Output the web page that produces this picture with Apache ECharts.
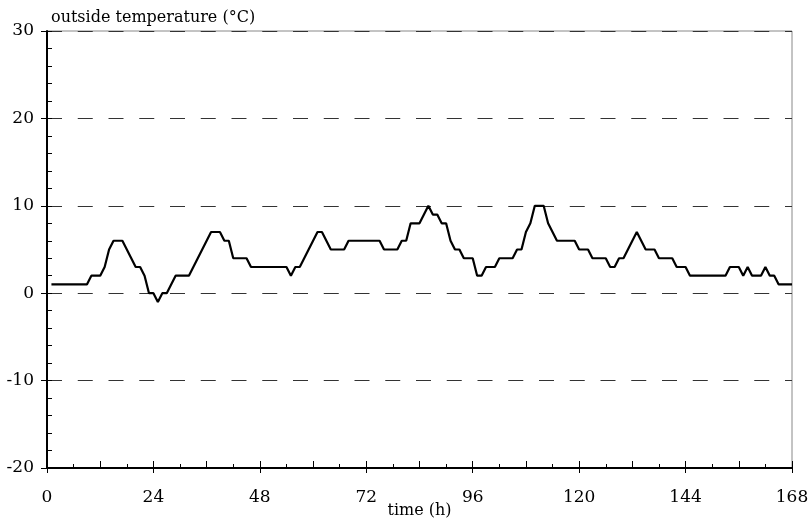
<!DOCTYPE html>
<html>
<head>
<meta charset="utf-8">
<script src="https://cdn.jsdelivr.net/npm/echarts@6/dist/echarts.min.js"></script>
<style>html,body{margin:0;padding:0;background:#fff;overflow:hidden}#c{width:811px;height:523px}</style>
</head>
<body>
<div id="c"></div>
<script>
const titleText = 'outside temperature (°C)';
const xName = 'time (h)';
const firstHour = 1;
// hourly outside temperature, hours 1..168
const temps = [
  1,1,1,1,1,1,1,1,1,
  2,2,2,3,5,6,6,6,5,4,
  3,3,2,0,0,-1,0,0,1,2,
  2,2,2,3,4,5,6,7,7,7,
  6,6,4,4,4,4,3,3,3,3,
  3,3,3,3,3,2,3,3,4,5,
  6,7,7,6,5,5,5,5,6,6,
  6,6,6,6,6,6,5,5,5,5,
  6,6,8,8,8,9,10,9,9,8,
  8,6,5,5,4,4,4,2,2,3,
  3,3,4,4,4,4,5,5,7,8,
  10,10,10,8,7,6,6,6,6,6,
  5,5,5,4,4,4,4,3,3,4,
  4,5,6,7,6,5,5,5,4,4,
  4,4,3,3,3,2,2,2,2,2,
  2,2,2,2,3,3,3,2,3,2,
  2,2,3,2,2,1,1,1,1
];
const xMin = 0, xMax = 168, xStep = 24;
const yMin = -20, yMax = 30, yStep = 10;

const data = temps.map((v, i) => [firstHour + i, v]);
const font = 'DejaVu Serif';
const chart = echarts.init(document.getElementById('c'), null, {renderer: 'canvas', width: 811, height: 523});
chart.setOption({
  backgroundColor: '#fff',
  animation: false,
  title: {
    text: titleText, left: 46, top: 5,
    textStyle: {fontFamily: font, fontSize: 16, fontWeight: 'normal', color: '#000'}
  },
  grid: {left: 47, width: 745, top: 31, height: 437, outerBoundsMode: 'none', containLabel: false,
         show: true, borderColor: '#888', borderWidth: 1, backgroundColor: 'transparent'},
  xAxis: [
    {
      type: 'value', min: xMin, max: xMax, interval: xStep, position: 'bottom',
      name: xName, nameLocation: 'middle', nameGap: 35, nameMoveOverlap: false,
      nameTextStyle: {fontFamily: font, fontSize: 16, color: '#000'},
      axisLine: {show: true, onZero: false, lineStyle: {color: '#000', width: 2}},
      axisTick: {show: true, inside: false, length: 5, lineStyle: {color: '#000', width: 1}},
      axisLabel: {fontFamily: font, fontSize: 17, color: '#000', margin: 21},
      splitLine: {show: false}
    },
    {
      type: 'value', min: xMin, max: xMax, interval: 12, position: 'bottom', offset: 0,
      axisLine: {show: false, onZero: false},
      axisTick: {show: true, inside: true, length: 7, lineStyle: {color: '#000', width: 1}},
      axisLabel: {show: false}, splitLine: {show: false}
    },
    {
      type: 'value', min: xMin, max: xMax, interval: 6, position: 'bottom', offset: 0,
      axisLine: {show: false, onZero: false},
      axisTick: {show: true, inside: true, length: 4, lineStyle: {color: '#000', width: 1}},
      axisLabel: {show: false}, splitLine: {show: false}
    }
  ],
  yAxis: [
    {
      type: 'value', min: yMin, max: yMax, interval: yStep, position: 'left',
      axisLine: {show: true, onZero: false, lineStyle: {color: '#000', width: 2}},
      axisTick: {show: true, inside: false, length: 6, lineStyle: {color: '#000', width: 1}},
      axisLabel: {fontFamily: font, fontSize: 17, color: '#000', margin: 13},
      splitLine: {show: true, lineStyle: {color: '#333', width: 1, type: [15, 15.75]}}
    },
    {
      type: 'value', min: yMin, max: yMax, interval: 2, position: 'left', offset: 0,
      axisLine: {show: false, onZero: false},
      axisTick: {show: true, inside: true, length: 5, lineStyle: {color: '#000', width: 1}},
      axisLabel: {show: false}, splitLine: {show: false}
    }
  ],
  series: [{
    type: 'line', data: data, xAxisIndex: 0, yAxisIndex: 0,
    showSymbol: false, symbol: 'none',
    lineStyle: {color: '#000', width: 2.2}
  }]
});
</script>
</body>
</html>
